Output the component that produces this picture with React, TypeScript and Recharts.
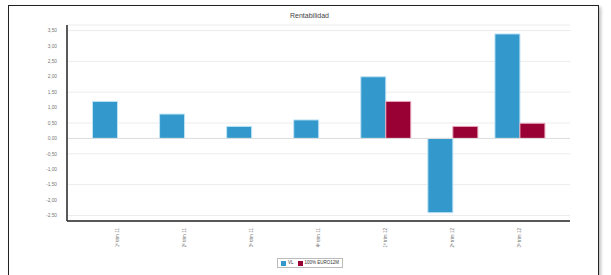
import { BarChart, Bar, XAxis, YAxis, CartesianGrid, ReferenceLine } from 'recharts';

const periods = ['1º trim 11', '2º trim 11', '3º trim 11', '4º trim 11', '1º trim 12', '2º trim 12', '3º trim 12'];
const vlValues = [1.2, 0.79, 0.39, 0.6, 2.0, -2.41, 3.39];
const euroValues: (number | null)[] = [null, null, null, null, 1.2, 0.39, 0.49];
const yTicks = [-2.5, -2, -1.5, -1, -0.5, 0, 0.5, 1, 1.5, 2, 2.5, 3, 3.5];

const data = periods.map((p, i) => ({ period: p, vl: vlValues[i], euro: euroValues[i] }));

const BLUE = '#3399cc';
const RED = '#990033';
const FONT = '"Liberation Sans", Arial, sans-serif';

function PeriodTick(props: any) {
  const { x, y, payload } = props;
  return (
    <text
      x={0}
      y={0}
      transform={`translate(${x + 2},${y - 1}) rotate(-90)`}
      textAnchor="end"
      fontSize={4.6}
      fill="#777"
      fontFamily={FONT}
    >
      {payload.value}
    </text>
  );
}

function LegendBox() {
  return (
    <div
      style={{
        display: 'inline-flex',
        alignItems: 'center',
        border: '1px solid #bbb',
        padding: '1px 3px',
        fontSize: 4.5,
        fontFamily: FONT,
        color: '#333',
        lineHeight: '6px',
        background: '#fff',
      }}
    >
      <span style={{ width: 5, height: 5, background: BLUE, display: 'inline-block', marginRight: 2 }} />
      <span style={{ marginRight: 4 }}>VL</span>
      <span style={{ width: 5, height: 5, background: RED, display: 'inline-block', marginRight: 2 }} />
      <span>100% EURO12M</span>
    </div>
  );
}

export default function App() {
  return (
    <div style={{ position: 'absolute', left: 0, top: 0, width: 611, height: 275, overflow: 'hidden', background: '#fff' }}>
      <div
        style={{
          position: 'absolute',
          left: 8,
          top: 5,
          width: 589,
          height: 290,
          border: '1.5px solid #222',
          boxShadow: '2px 2px 3px rgba(0,0,0,0.25)',
        }}
      />
      <div
        style={{
          position: 'absolute',
          left: 0,
          top: 12,
          width: 611,
          textAlign: 'center',
          fontSize: 7,
          fontFamily: FONT,
          color: '#444',
          paddingLeft: 8,
          boxSizing: 'border-box',
        }}
      >
        Rentabilidad
      </div>
      <div style={{ position: 'absolute', left: 0, top: 0 }}>
        <BarChart
          width={611}
          height={275}
          data={data}
          margin={{ top: 25, right: 41, bottom: 0, left: 7 }}
          barSize={25}
          barGap={0}
        >
          <CartesianGrid vertical={false} stroke="#ececec" strokeWidth={1} />
          <XAxis
            dataKey="period"
            interval={0}
            padding={{ left: 16.5, right: 17 }}
            tickLine={false}
            axisLine={{ stroke: '#222', strokeWidth: 1.5 }}
            tick={<PeriodTick />}
            height={54}
          />
          <XAxis xAxisId="top" orientation="top" dataKey="period" tick={false} tickLine={false} height={0} axisLine={{ stroke: '#888', strokeWidth: 1 }} />
          <YAxis
            width={60}
            domain={[-2.68, 3.68]}
            ticks={yTicks}
            allowDataOverflow
            tickLine={false}
            tickMargin={4}
            axisLine={{ stroke: '#222', strokeWidth: 1.5 }}
            tick={{ fontSize: 4.8, fill: '#777', fontFamily: FONT }}
            tickFormatter={(v: number) => v.toFixed(2).replace('.', ',')}
          />
          <YAxis yAxisId="right" orientation="right" domain={[-2.68, 3.68]} tick={false} tickLine={false} width={0} axisLine={{ stroke: '#888', strokeWidth: 1 }} />
          <ReferenceLine y={0} stroke="#dcdcdc" />
          <Bar dataKey="vl" name="VL" fill={BLUE} stroke="#bfe3f5" strokeWidth={1} isAnimationActive={false} />
          <Bar dataKey="euro" name="100% EURO12M" fill={RED} stroke="#e9a9bd" strokeWidth={1} isAnimationActive={false} />
        </BarChart>
      </div>
      <div style={{ position: 'absolute', left: 277, top: 258, lineHeight: 0 }}>
        <LegendBox />
      </div>
    </div>
  );
}
